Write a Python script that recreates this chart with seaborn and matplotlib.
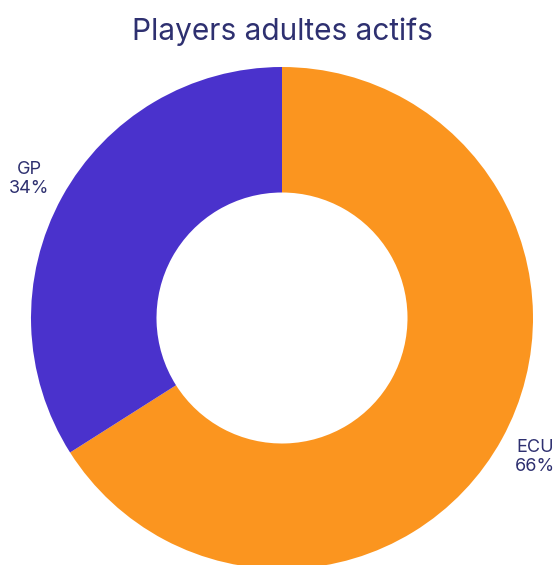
import matplotlib
matplotlib.use("Agg")
import matplotlib.pyplot as plt
import seaborn as sns

# data
labels = ["ECU", "GP"]
shares = [66, 34]
colors = ["#FB951F", "#4A32CC"]

sns.set_theme(style="white")
plt.rcParams['font.family'] = ['Inter', 'DejaVu Sans']

W, H = 556, 565
fig = plt.figure(figsize=(W / 100, H / 100), dpi=100)
ax = fig.add_axes([0, 0, 1, 1])

text_labels = [f"{l}\n{s}%" for l, s in zip(labels, shares)]
ax.pie(shares, labels=text_labels, colors=sns.color_palette(colors),
       startangle=90, counterclock=False, radius=1,
       wedgeprops=dict(width=0.5, edgecolor="none"),
       labeldistance=1.15,
       textprops=dict(ha="center", va="center", color="#2E3070", fontsize=13,
                      linespacing=1.15))

# pie centre and radius in pixels (set after pie, which resets limits)
cx, cy, r = 282, 318, 251
ax.set_xlim(-cx / r, (W - cx) / r)
ax.set_ylim(-(H - cy) / r, cy / r)
ax.set_aspect("equal")
ax.axis("off")

fig.text(cx / W, 1 - 40 / H, "Players adultes actifs", ha="center", va="baseline",
         fontsize=21.5, color="#2E3070")

fig.savefig("out.png", dpi=100)
